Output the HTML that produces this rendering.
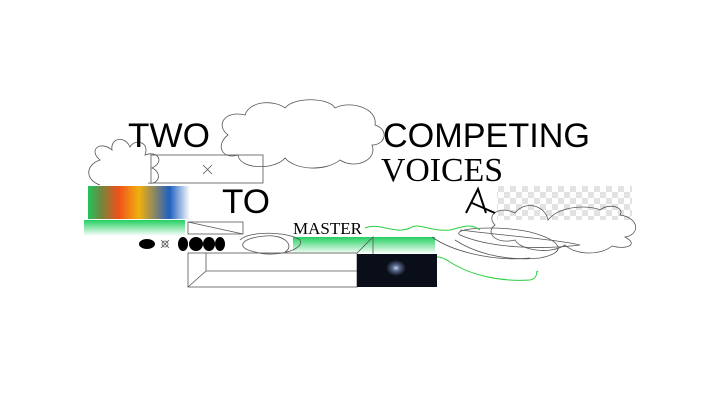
<!DOCTYPE html>
<html><head><style>
html,body{margin:0;padding:0;background:#fff;width:720px;height:406px;overflow:hidden}
svg{display:block}
</style></head><body>
<svg width="720" height="406" viewBox="0 0 720 406" xmlns="http://www.w3.org/2000/svg">
<defs>
<linearGradient id="rb" x1="0" x2="1" y1="0" y2="0">
<stop offset="0" stop-color="#22c55a"/><stop offset="0.12" stop-color="#6a8a40"/>
<stop offset="0.3" stop-color="#f0501a"/><stop offset="0.5" stop-color="#f0b010"/>
<stop offset="0.62" stop-color="#a09050"/><stop offset="0.8" stop-color="#2060c0"/>
<stop offset="1" stop-color="#ffffff"/></linearGradient>
<linearGradient id="gv" x1="0" x2="0" y1="0" y2="1">
<stop offset="0" stop-color="#22d060"/><stop offset="1" stop-color="#ffffff"/></linearGradient>
<pattern id="ck" width="12" height="12" patternUnits="userSpaceOnUse">
<rect width="12" height="12" fill="#fff"/><rect width="6" height="6" fill="#e2e2e2"/><rect x="6" y="6" width="6" height="6" fill="#e2e2e2"/></pattern>
<radialGradient id="neb" cx="0.5" cy="0.5" r="0.5">
<stop offset="0" stop-color="#c8d0e8"/><stop offset="0.35" stop-color="#5a6a90"/><stop offset="1" stop-color="#0a0e18"/></radialGradient>
</defs>

<rect x="497" y="186" width="135" height="34" fill="url(#ck)"/>

<rect x="88" y="186" width="102" height="33" fill="url(#rb)"/>
<rect x="84" y="220" width="101" height="16" fill="url(#gv)"/>
<rect x="293" y="237" width="142" height="17" fill="url(#gv)"/>

<g fill="none" stroke="#555" stroke-width="0.8">
<path d="M228,135 C215,125 225,110 245,115 C250,100 275,100 285,108 C295,96 330,98 335,108 C350,100 378,108 375,125 C390,130 385,145 372,145 C378,160 355,170 340,160 C325,172 295,170 285,158 C275,170 240,170 238,155 C222,160 215,145 228,135 Z"/>
<path d="M100,185 C85,180 85,165 100,160 C88,150 100,140 112,150 C110,138 125,135 130,147 C135,138 150,142 145,155 C158,150 165,162 152,168 C162,172 160,185 148,183"/>
<path d="M495,225 C485,215 500,205 515,213 C525,200 545,205 548,220 C560,205 590,205 600,210 C610,202 625,208 620,215 C640,218 640,235 625,237 C640,245 625,250 612,246 C600,256 575,255 565,245 C550,255 520,250 515,240 C495,245 485,232 495,225 Z"/>
<path d="M460,230 C500,235 560,240 580,245 C540,250 490,248 460,235 C450,228 500,225 530,232 C560,240 570,252 540,258 C500,262 470,250 455,240"/>
<path d="M240,240 C250,230 290,232 300,240 C305,250 275,258 255,252 C235,248 240,238 265,236 C285,234 295,246 285,252"/>
<path d="M432,237 C450,250 490,262 530,258"/>
<rect x="151" y="155" width="112" height="28"/>
<path d="M203,165 L212,174 M212,165 L203,174"/>
<rect x="188" y="222" width="55" height="12"/>
<path d="M188,222 L243,234"/>
<rect x="188" y="253" width="169" height="34"/>
<path d="M188,287 L206,271 L357,271 M206,271 L206,253"/>
<path d="M357,253 L373,237 L373,254"/>
</g>

<g fill="none" stroke="#2bd040" stroke-width="1">
<path d="M365,228 C380,222 395,235 410,228 C420,222 430,232 450,230 C460,228 470,222 480,230"/>
<path d="M432,262 C428,255 440,255 450,262 C470,275 500,282 530,280 C540,278 535,268 538,272"/>
</g>

<rect x="357" y="254" width="80" height="33" fill="#0a0e18"/>
<ellipse cx="396" cy="268" rx="10" ry="8" fill="url(#neb)"/>

<g fill="#000">
<ellipse cx="147" cy="244" rx="8" ry="5"/>
<ellipse cx="183" cy="244" rx="5" ry="7"/>
<ellipse cx="196" cy="244" rx="7" ry="7"/>
<ellipse cx="209" cy="244" rx="6" ry="7"/>
<ellipse cx="220" cy="244" rx="5" ry="7"/>
</g>
<path d="M161,240 L169,248 M169,240 L161,248" stroke="#555" stroke-width="0.8"/>
<circle cx="165" cy="244" r="3" fill="none" stroke="#555" stroke-width="0.8"/>

<g font-family="'Liberation Sans',sans-serif" font-size="34" fill="#000">
<text x="128" y="147" textLength="82" lengthAdjust="spacingAndGlyphs">TWO</text>
<text x="383" y="147" textLength="207" lengthAdjust="spacingAndGlyphs">COMPETING</text>
<text x="222" y="213" textLength="48" lengthAdjust="spacingAndGlyphs">TO</text>
</g>
<text x="381" y="181" font-family="'Liberation Serif',serif" font-size="34" fill="#000" textLength="122" lengthAdjust="spacingAndGlyphs">VOICES</text>
<text x="293" y="234" font-family="'Liberation Serif',serif" font-size="17" fill="#000" textLength="69" lengthAdjust="spacingAndGlyphs">MASTER</text>
<path d="M466,213 L478,189 L486,213 M472,203 L495,213" fill="none" stroke="#000" stroke-width="2"/>
</svg>
</body></html>
